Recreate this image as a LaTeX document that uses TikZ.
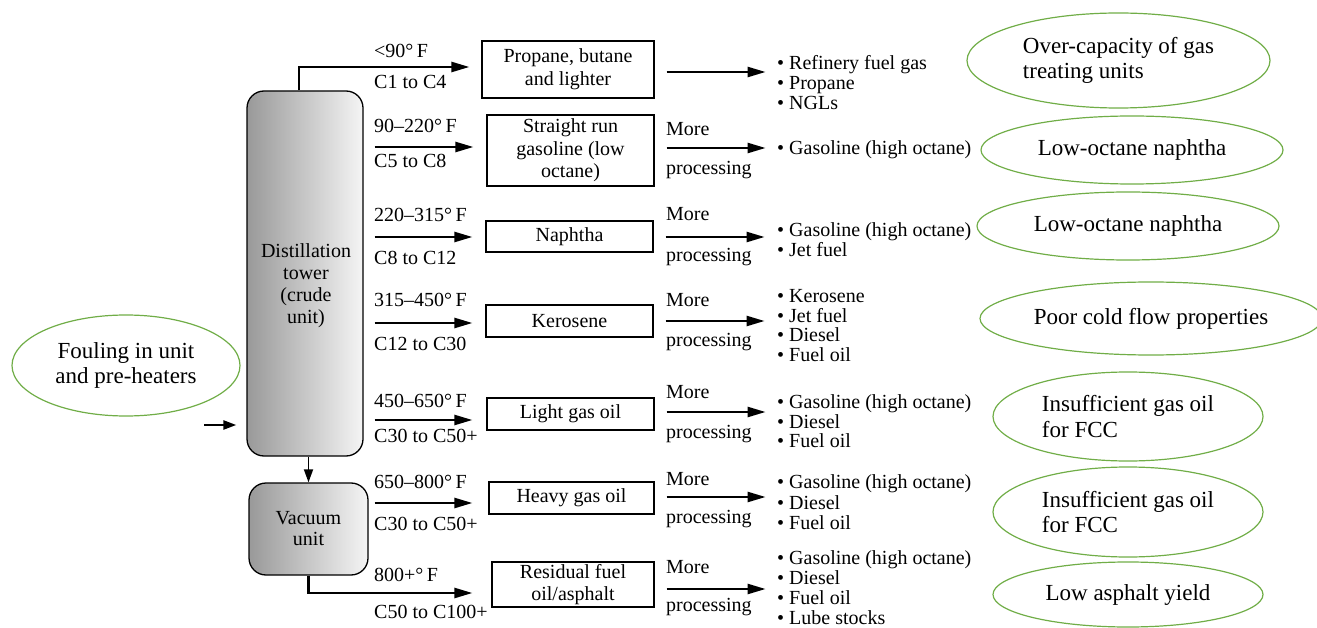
\documentclass[tikz,border=0pt]{standalone}
\usepackage{fontspec}
\setmainfont{Liberation Serif}
\usetikzlibrary{arrows.meta,shapes.geometric,calc}
\definecolor{issuegreen}{RGB}{112,173,71}
\begin{document}
\begin{tikzpicture}[x=1pt,y=-1pt,
  every node/.style={font=\fontsize{20}{22}\selectfont, inner sep=0pt},
  unit/.style={draw=black, line width=1.3pt, rounded corners=17pt,
               left color=black!40, right color=black!4},
  prodbox/.style={draw=black, line width=1.2pt, align=center},
  issue/.style={ellipse, draw=issuegreen, line width=1.2pt, align=left,
                font=\fontsize{23}{25.5}\selectfont},
  flow/.style={line width=2.4pt, -{Triangle[length=18pt,width=10pt]}},
  feedflow/.style={line width=2.4pt, -{Triangle[length=13pt,width=9pt]}},
  downflow/.style={line width=1.8pt, -{Triangle[length=13pt,width=9pt]}},
  lbl/.style={anchor=west, text height=14pt, text depth=4pt},
  list/.style={anchor=west, align=left},
]
\useasboundingbox (0,0) rectangle (1317,628);

% process units
\node[unit, minimum width=116pt, minimum height=365pt] (tower) at (305,273.5) {};
\node[align=center] (towertxt) at (306,286) {Distillation\\tower\\(crude\\unit)};
\node[unit, minimum width=119pt, minimum height=92pt, align=center,
      font=\fontsize{20}{21}\selectfont] (vac) at (308.5,529) {Vacuum\\unit};

% product boxes
\node[prodbox, minimum width=172pt, minimum height=57pt, font=\fontsize{20}{23}\selectfont]
  (box1) at (568,69.5) {Propane, butane\\and lighter};
\node[prodbox, minimum width=167pt, minimum height=71pt, font=\fontsize{20}{22.5}\selectfont]
  (box2) at (570.5,150.5) {Straight run\\gasoline (low\\octane)};
\node[prodbox, minimum width=167pt, minimum height=31pt] (box3) at (569.5,236.5) {Naphtha};
\node[prodbox, minimum width=167pt, minimum height=32pt] (box4) at (569.5,321) {Kerosene};
\node[prodbox, minimum width=167pt, minimum height=32pt] (box5) at (570.5,414) {Light gas oil};
\node[prodbox, minimum width=165pt, minimum height=32pt] (box6) at (571.5,498) {Heavy gas oil};
\node[prodbox, minimum width=162pt, minimum height=45pt, font=\fontsize{20}{22}\selectfont]
  (box7) at (573,584.5) {Residual fuel\\oil/asphalt};

% cut temperatures and carbon ranges
\node[lbl] (t1) at (374,53)  {<90°\,F};
\node[lbl] (c1) at (374,84)  {C1 to C4};
\node[lbl] (t2) at (374,128) {90–220°\,F};
\node[lbl] (c2) at (374,163) {C5 to C8};
\node[lbl] (t3) at (374,217) {220–315°\,F};
\node[lbl] (c3) at (374,260) {C8 to C12};
\node[lbl] (t4) at (374,302) {315–450°\,F};
\node[lbl] (c4) at (374,345) {C12 to C30};
\node[lbl] (t5) at (374,402) {450–650°\,F};
\node[lbl] (c5) at (374,437) {C30 to C50+};
\node[lbl] (t6) at (374,483) {650–800°\,F};
\node[lbl] (c6) at (374,525) {C30 to C50+};
\node[lbl] (t7) at (374,576) {800+°\,F};
\node[lbl] (c7) at (374,613) {C50 to C100+};

% streams leaving the units
\draw[flow] ([xshift=-6pt]tower.north) |- ($(box1.west)+(-12,-2.5)$);
\draw[flow] ($(tower.east|-box2.west)+(11,-3.5)$) -- ($(box2.west)+(-13,-3.5)$);
\draw[flow] ($(tower.east|-box3.west)+(11,0.5)$) -- ($(box3.west)+(-13,0.5)$);
\draw[flow] ($(tower.east|-box4.west)+(11,2)$) -- ($(box4.west)+(-13,2)$);
\draw[flow] ($(tower.east|-box5.west)+(11,6)$) -- ($(box5.west)+(-14,6)$);
\draw[flow] ($(vac.east|-box6.west)+(6,5)$) -- ($(box6.west)+(-16,5)$);
\draw[flow] (vac.south) |- ($(box7.west)+(-19,8.5)$);
\draw[downflow] (vac.north|-tower.south) -- (vac.north);
\coordinate (feed) at (204,425);
\draw[feedflow] (feed) -- ($(tower.west|-feed)+(-10,0)$);

% further processing
\draw[flow] ($(box1.east)+(12,2.5)$) -- ++(99,0);
\draw[flow] ($(box2.east)+(12,-2.5)$) -- ++(99,0);
\draw[flow] ($(box3.east)+(12,0.5)$) -- ++(99,0);
\draw[flow] ($(box4.east)+(12,0)$) -- ++(99,0);
\draw[flow] ($(box5.east)+(12,-2)$) -- ++(99,0);
\draw[flow] ($(box6.east)+(12,-1)$) -- ++(99,0);
\draw[flow] ($(box7.east)+(12,4.5)$) -- ++(99,0);

\node[lbl] (m2) at (666,131) {More};
\node[lbl] (p2) at (666,170) {processing};
\node[lbl] (m3) at (666,216) {More};
\node[lbl] (p3) at (666,257) {processing};
\node[lbl] (m4) at (666,301) {More};
\node[lbl] (p4) at (666,341) {processing};
\node[lbl] (m5) at (666,393) {More};
\node[lbl] (p5) at (666,433) {processing};
\node[lbl] (m6) at (666,480) {More};
\node[lbl] (p6) at (666,518) {processing};
\node[lbl] (m7) at (666,568) {More};
\node[lbl] (p7) at (666,606) {processing};

% end products
\node[list, font=\fontsize{20}{20}\selectfont] (list1) at (777,83)
  {•\ Refinery fuel gas\\•\ Propane\\•\ NGLs};
\node[list] (list2) at (777,149.5) {•\ Gasoline (high octane)};
\node[list, font=\fontsize{20}{20}\selectfont] (list3) at (777,240)
  {•\ Gasoline (high octane)\\•\ Jet fuel};
\node[list, font=\fontsize{20}{19.7}\selectfont] (list4) at (777,325.5)
  {•\ Kerosene\\•\ Jet fuel\\•\ Diesel\\•\ Fuel oil};
\node[list, font=\fontsize{20}{19.5}\selectfont] (list5) at (777,421.5)
  {•\ Gasoline (high octane)\\•\ Diesel\\•\ Fuel oil};
\node[list, font=\fontsize{20}{20.5}\selectfont] (list6) at (777,502.5)
  {•\ Gasoline (high octane)\\•\ Diesel\\•\ Fuel oil};
\node[list, font=\fontsize{20}{20}\selectfont] (list7) at (777,588)
  {•\ Gasoline (high octane)\\•\ Diesel\\•\ Fuel oil\\•\ Lube stocks};

% operating problems
\node[issue, minimum width=303pt, minimum height=95pt] (iss1) at (1118.5,60.5)
  {Over-capacity of gas\\treating units};
\node[issue, minimum width=302pt, minimum height=68pt] (iss2) at (1132,150) {Low-octane naphtha};
\node[issue, minimum width=302pt, minimum height=68pt] (iss3) at (1128,226) {Low-octane naphtha};
\node[issue, minimum width=342pt, minimum height=73pt] (iss4) at (1151,318.5) {Poor cold flow properties};
\node[issue, minimum width=270pt, minimum height=89pt] (iss5) at (1128,416.5)
  {Insufficient gas oil\\for FCC};
\node[issue, minimum width=270pt, minimum height=90pt] (iss6) at (1128,512)
  {Insufficient gas oil\\for FCC};
\node[issue, minimum width=270pt, minimum height=65pt] (iss7) at (1128,594.5) {Low asphalt yield};
\node[issue, align=center, minimum width=228pt, minimum height=101pt] (foul) at (126,365.5)
  {Fouling in unit\\and pre-heaters};
\end{tikzpicture}
\end{document}
